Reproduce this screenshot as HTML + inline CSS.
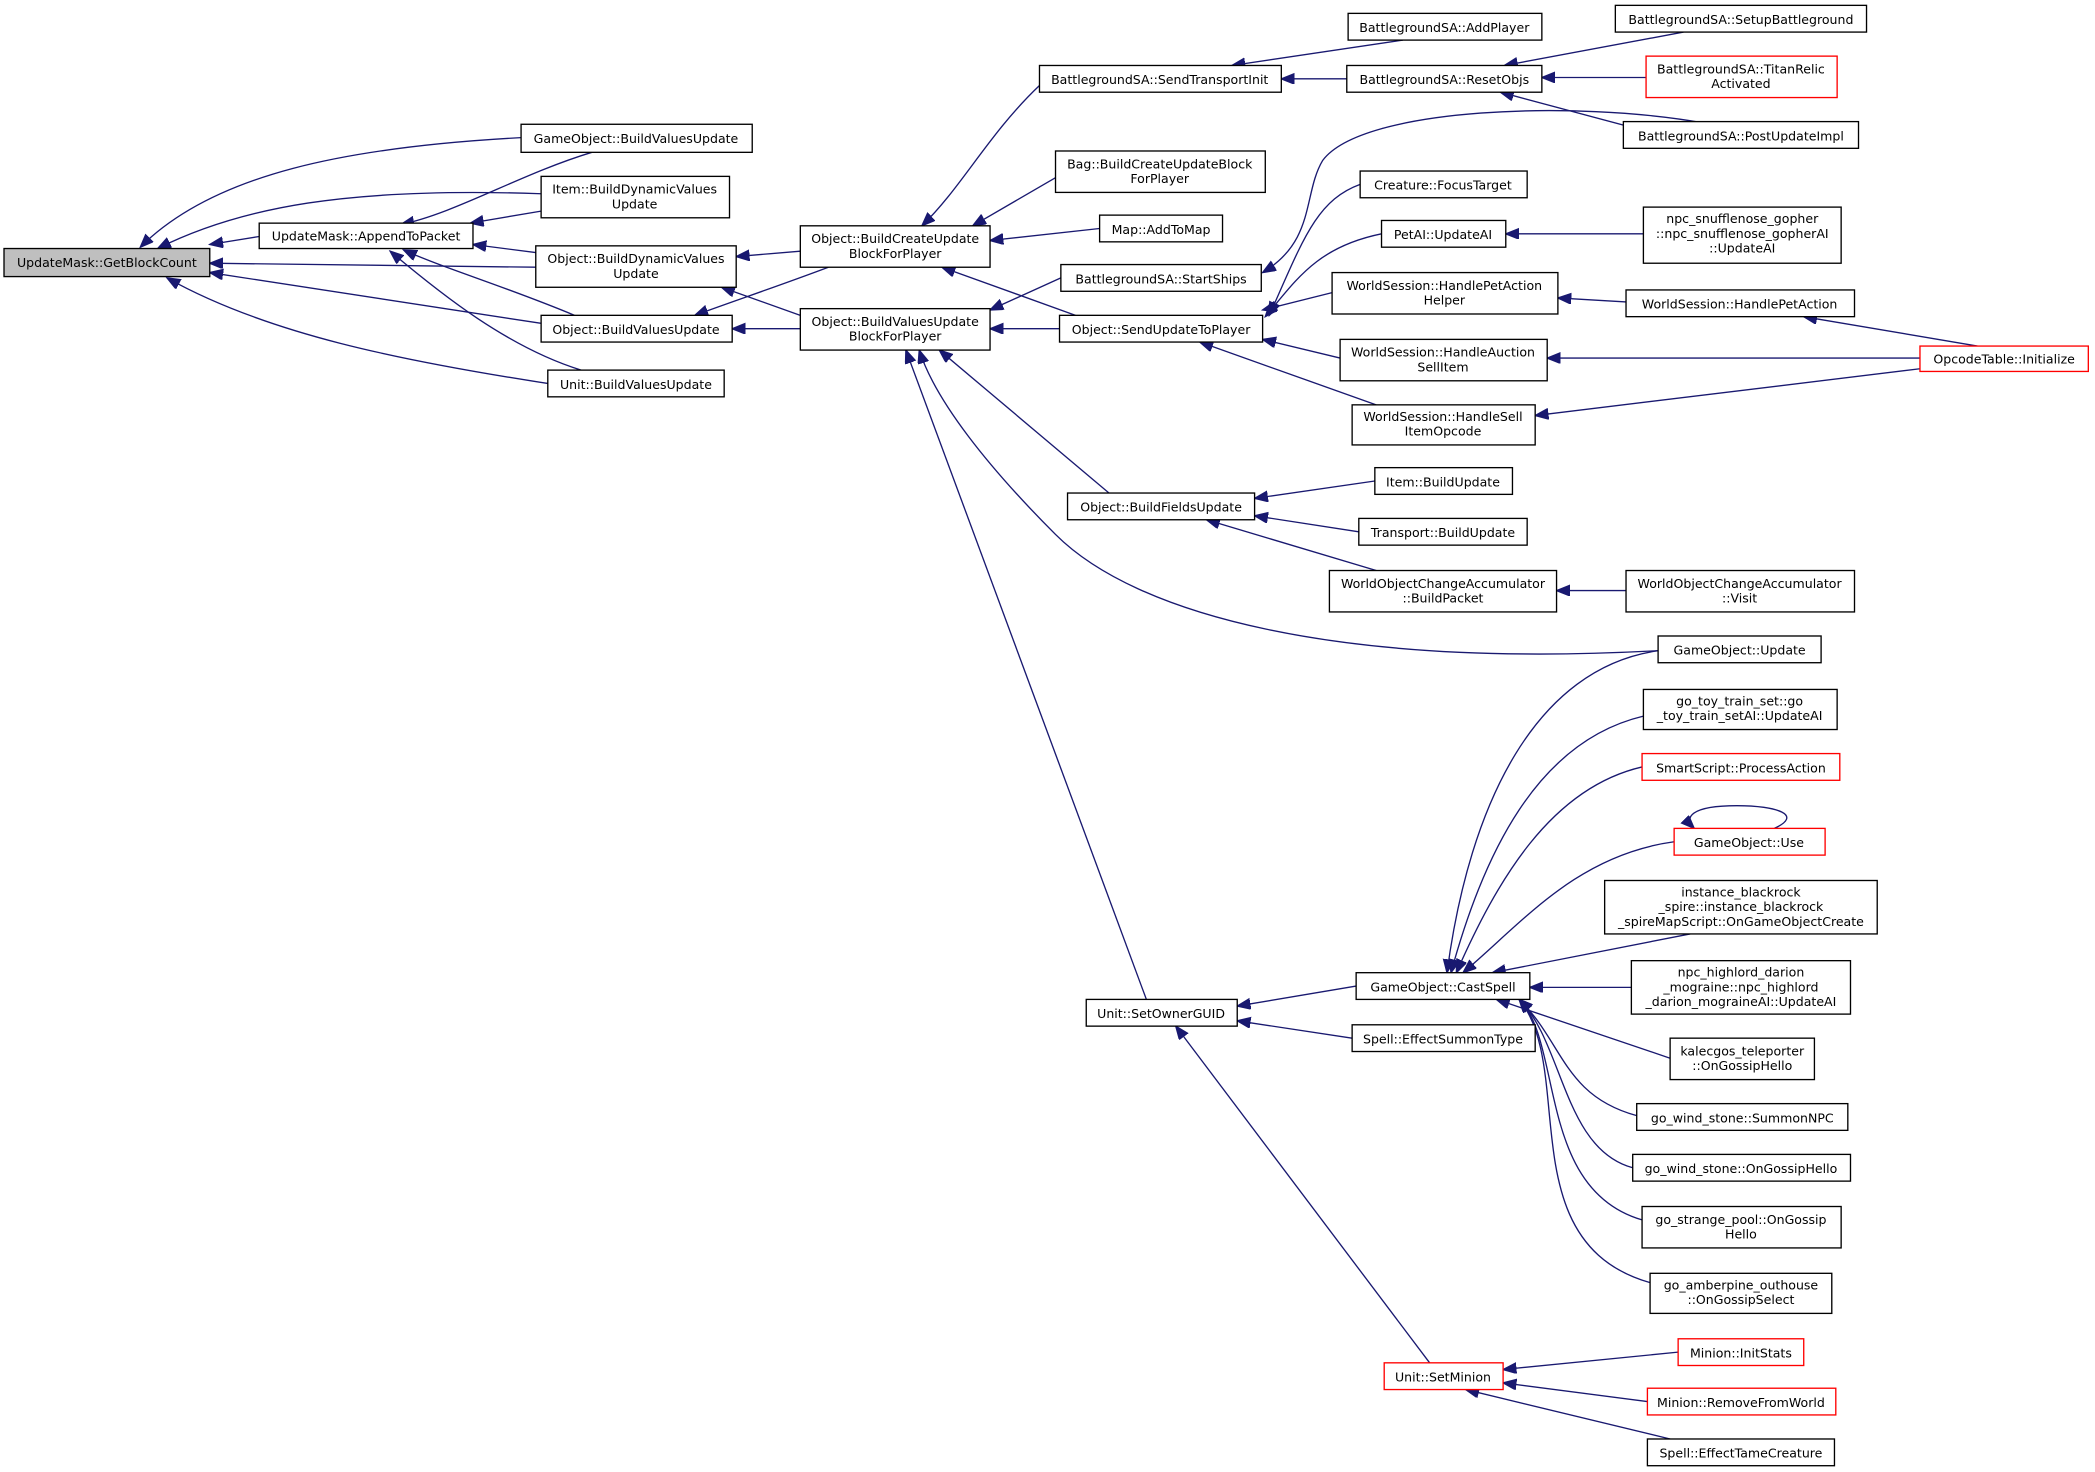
<!DOCTYPE html>
<html><head><meta charset="utf-8"><style>
html,body{margin:0;padding:0;background:#fff;}
svg{display:block;}
text{font-family:"DejaVu Sans","Liberation Sans",sans-serif;font-size:9.4px;text-anchor:middle;fill:#000;}
rect{fill:#fff;stroke:#000;stroke-width:1;}
rect.r{stroke:#ff0000;}
path{fill:none;stroke:#191970;stroke-width:1;}
</style></head><body>
<svg width="2095" height="1472" viewBox="0 0 1568 1101.7" xmlns="http://www.w3.org/2000/svg">
<defs><marker id="a" markerUnits="userSpaceOnUse" markerWidth="12" markerHeight="10" refX="10" refY="4" orient="auto"><path d="M0,0 L10,4 L0,8 z" style="fill:#191970;stroke:#191970"/></marker></defs>
<g marker-end="url(#a)">
<path d="M194,177 L157,183"/>
<path d="M390,103 C260,110 160,130 105,185"/>
<path d="M405,145 C260,140 180,155 118,186"/>
<path d="M401,200 L157,197"/>
<path d="M405,242 L157,204"/>
<path d="M410,287 C300,270 200,250 125,208"/>
<path d="M443,114 C390,130 340,160 300,168"/>
<path d="M405,158 L352,167"/>
<path d="M401,189 L354,183"/>
<path d="M430,236 C380,215 330,200 302,187"/>
<path d="M435,277 C380,260 330,220 292,188"/>
<path d="M599,188 L551,192"/>
<path d="M599,236 L540,215"/>
<path d="M620,200 C580,215 550,225 520,236"/>
<path d="M599,246 L548,246"/>
<path d="M778,64 C740,100 720,140 690,169"/>
<path d="M790,133 L728,169"/>
<path d="M823,171 L741,180"/>
<path d="M794,208 L741,232"/>
<path d="M793,246 L741,246"/>
<path d="M805,236 L705,200"/>
<path d="M830,369 L703,262"/>
<path d="M1241,487 C1000,500 850,460 790,400 C740,350 700,300 688,262"/>
<path d="M858,748 L678,262"/>
<path d="M1008,59 L959,59"/>
<path d="M1050,30 L922,49"/>
<path d="M1260,24 L1126,49"/>
<path d="M1232,58 L1154,58"/>
<path d="M1280,111 L1123,69"/>
<path d="M1275,92 C1180,75 1020,80 990,120 C975,145 985,180 945,204"/>
<path d="M1018,138 C985,150 975,180 950,236"/>
<path d="M1034,175 C985,185 970,210 947,237"/>
<path d="M997,219 L945,232"/>
<path d="M1003,268 L945,254"/>
<path d="M1030,303 L898,256"/>
<path d="M1230,175 L1127,175"/>
<path d="M1217,226 L1166,223"/>
<path d="M1480,259 L1350,237"/>
<path d="M1437,268 L1158,268"/>
<path d="M1437,276 L1149,311"/>
<path d="M1029,360 L939,373"/>
<path d="M1017,398 L939,386"/>
<path d="M1030,427 L903,389"/>
<path d="M1217,442 L1165,442"/>
<path d="M1015,738 L926,753"/>
<path d="M1012,777 L926,764"/>
<path d="M1070,1020 L880,768"/>
<path d="M1241,487 C1150,500 1100,600 1083,728"/>
<path d="M1230,536 C1150,555 1110,640 1086,728"/>
<path d="M1229,574 C1160,590 1120,660 1090,728"/>
<path d="M1253,630 C1180,640 1140,690 1095,728"/>
<path d="M1265,699 L1117,728"/>
<path d="M1221,739 L1145,739"/>
<path d="M1250,792 L1120,748"/>
<path d="M1225,835 C1170,820 1170,780 1137,748"/>
<path d="M1222,874 C1170,860 1170,780 1137,748"/>
<path d="M1229,913 C1150,890 1170,780 1137,748"/>
<path d="M1235,960 C1130,930 1180,800 1137,748"/>
<path d="M1328,620 C1350,610 1330,603 1300,603 C1265,603 1260,612 1268,620"/>
<path d="M1256,1012 L1125,1025"/>
<path d="M1233,1049 L1125,1035"/>
<path d="M1250,1077 L1097,1040"/>
</g>
<rect x="3" y="186" width="154" height="21" style="fill:#bfbfbf"/><text x="80" y="200">UpdateMask::GetBlockCount</text>
<rect x="194" y="167" width="160" height="19"/><text x="274" y="180">UpdateMask::AppendToPacket</text>
<rect x="390" y="93" width="173" height="21"/><text x="476" y="107">GameObject::BuildValuesUpdate</text>
<rect x="405" y="132" width="141" height="31"/><text x="475" y="145">Item::BuildDynamicValues</text><text x="475" y="156">Update</text>
<rect x="401" y="184" width="150" height="31"/><text x="476" y="197">Object::BuildDynamicValues</text><text x="476" y="208">Update</text>
<rect x="405" y="236" width="143" height="20"/><text x="476" y="250">Object::BuildValuesUpdate</text>
<rect x="410" y="277" width="132" height="20"/><text x="476" y="291">Unit::BuildValuesUpdate</text>
<rect x="599" y="169" width="142" height="31"/><text x="670" y="182">Object::BuildCreateUpdate</text><text x="670" y="193">BlockForPlayer</text>
<rect x="599" y="231" width="142" height="31"/><text x="670" y="244">Object::BuildValuesUpdate</text><text x="670" y="255">BlockForPlayer</text>
<rect x="778" y="49" width="181" height="20"/><text x="868" y="63">BattlegroundSA::SendTransportInit</text>
<rect x="790" y="113" width="157" height="31"/><text x="868" y="126">Bag::BuildCreateUpdateBlock</text><text x="868" y="137">ForPlayer</text>
<rect x="823" y="161" width="92" height="20"/><text x="869" y="175">Map::AddToMap</text>
<rect x="794" y="198" width="150" height="20"/><text x="869" y="212">BattlegroundSA::StartShips</text>
<rect x="793" y="236" width="152" height="20"/><text x="869" y="250">Object::SendUpdateToPlayer</text>
<rect x="799" y="369" width="140" height="20"/><text x="869" y="383">Object::BuildFieldsUpdate</text>
<rect x="813" y="748" width="113" height="20"/><text x="869" y="762">Unit::SetOwnerGUID</text>
<rect x="1009" y="10" width="145" height="20"/><text x="1081" y="24">BattlegroundSA::AddPlayer</text>
<rect x="1008" y="49" width="146" height="20"/><text x="1081" y="63">BattlegroundSA::ResetObjs</text>
<rect x="1209" y="4" width="188" height="20"/><text x="1303" y="18">BattlegroundSA::SetupBattleground</text>
<rect class="r" x="1232" y="42" width="143" height="31"/><text x="1303" y="55">BattlegroundSA::TitanRelic</text><text x="1303" y="66">Activated</text>
<rect x="1215" y="91" width="176" height="20"/><text x="1303" y="105">BattlegroundSA::PostUpdateImpl</text>
<rect x="1018" y="128" width="125" height="20"/><text x="1080" y="142">Creature::FocusTarget</text>
<rect x="1034" y="165" width="93" height="20"/><text x="1080" y="179">PetAI::UpdateAI</text>
<rect x="1230" y="155" width="148" height="42"/><text x="1304" y="167">npc_snufflenose_gopher</text><text x="1304" y="178">::npc_snufflenose_gopherAI</text><text x="1304" y="189">::UpdateAI</text>
<rect x="997" y="204" width="169" height="31"/><text x="1081" y="217">WorldSession::HandlePetAction</text><text x="1081" y="228">Helper</text>
<rect x="1217" y="217" width="171" height="20"/><text x="1302" y="231">WorldSession::HandlePetAction</text>
<rect x="1003" y="254" width="155" height="31"/><text x="1080" y="267">WorldSession::HandleAuction</text><text x="1080" y="278">SellItem</text>
<rect class="r" x="1437" y="259" width="126" height="19"/><text x="1500" y="272">OpcodeTable::Initialize</text>
<rect x="1012" y="303" width="137" height="30"/><text x="1080" y="315">WorldSession::HandleSell</text><text x="1080" y="326">ItemOpcode</text>
<rect x="1029" y="350" width="103" height="20"/><text x="1080" y="364">Item::BuildUpdate</text>
<rect x="1017" y="388" width="126" height="20"/><text x="1080" y="402">Transport::BuildUpdate</text>
<rect x="995" y="427" width="170" height="31"/><text x="1080" y="440">WorldObjectChangeAccumulator</text><text x="1080" y="451">::BuildPacket</text>
<rect x="1217" y="427" width="171" height="31"/><text x="1302" y="440">WorldObjectChangeAccumulator</text><text x="1302" y="451">::Visit</text>
<rect x="1241" y="476" width="122" height="20"/><text x="1302" y="490">GameObject::Update</text>
<rect x="1230" y="516" width="145" height="30"/><text x="1302" y="528">go_toy_train_set::go</text><text x="1302" y="539">_toy_train_setAI::UpdateAI</text>
<rect class="r" x="1229" y="564" width="148" height="20"/><text x="1303" y="578">SmartScript::ProcessAction</text>
<rect class="r" x="1253" y="620" width="113" height="20"/><text x="1309" y="634">GameObject::Use</text>
<rect x="1201" y="659" width="204" height="40"/><text x="1303" y="671">instance_blackrock</text><text x="1303" y="682">_spire::instance_blackrock</text><text x="1303" y="693">_spireMapScript::OnGameObjectCreate</text>
<rect x="1015" y="728" width="130" height="20"/><text x="1080" y="742">GameObject::CastSpell</text>
<rect x="1221" y="719" width="164" height="40"/><text x="1303" y="731">npc_highlord_darion</text><text x="1303" y="742">_mograine::npc_highlord</text><text x="1303" y="753">_darion_mograineAI::UpdateAI</text>
<rect x="1012" y="767" width="137" height="20"/><text x="1080" y="781">Spell::EffectSummonType</text>
<rect x="1250" y="777" width="108" height="31"/><text x="1304" y="790">kalecgos_teleporter</text><text x="1304" y="801">::OnGossipHello</text>
<rect x="1225" y="826" width="158" height="20"/><text x="1304" y="840">go_wind_stone::SummonNPC</text>
<rect x="1222" y="864" width="163" height="20"/><text x="1303" y="878">go_wind_stone::OnGossipHello</text>
<rect x="1229" y="903" width="149" height="31"/><text x="1303" y="916">go_strange_pool::OnGossip</text><text x="1303" y="927">Hello</text>
<rect x="1235" y="953" width="136" height="30"/><text x="1303" y="965">go_amberpine_outhouse</text><text x="1303" y="976">::OnGossipSelect</text>
<rect class="r" x="1036" y="1020" width="89" height="20"/><text x="1080" y="1034">Unit::SetMinion</text>
<rect class="r" x="1256" y="1002" width="94" height="20"/><text x="1303" y="1016">Minion::InitStats</text>
<rect class="r" x="1233" y="1039" width="141" height="20"/><text x="1303" y="1053">Minion::RemoveFromWorld</text>
<rect x="1233" y="1077" width="140" height="20"/><text x="1303" y="1091">Spell::EffectTameCreature</text>
</svg>
</body></html>
